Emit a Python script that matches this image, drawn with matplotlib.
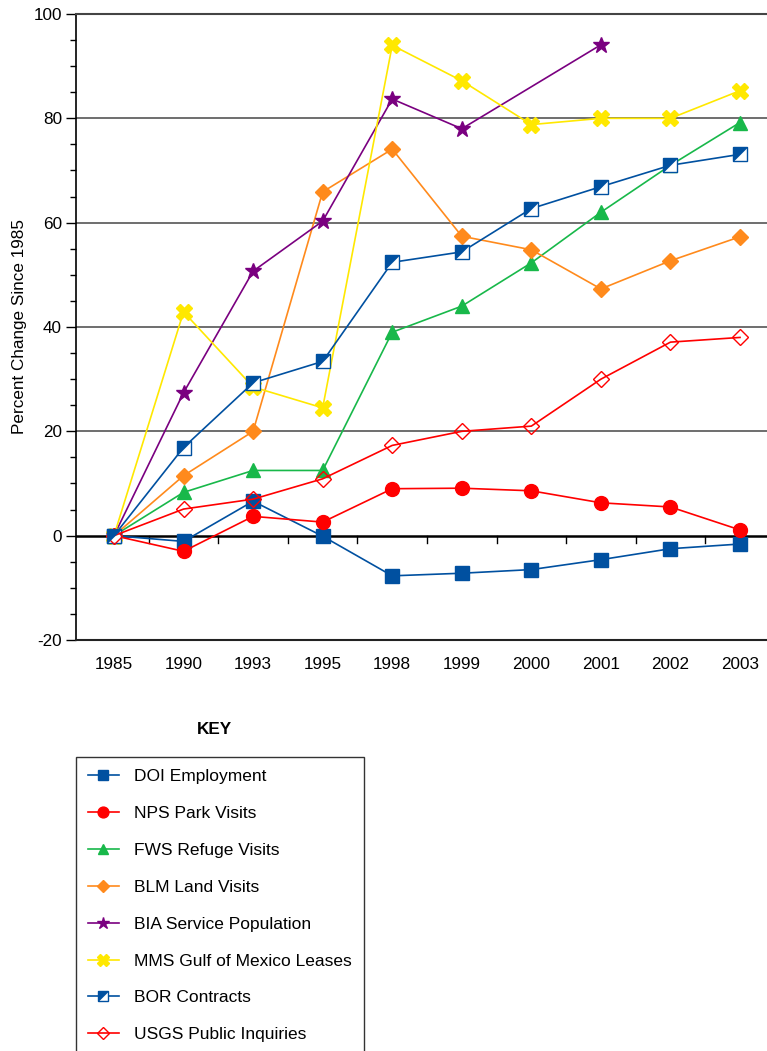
import numpy as np
import matplotlib
matplotlib.use('Agg')
import matplotlib.pyplot as plt
from matplotlib.path import Path
from matplotlib.legend_handler import HandlerTuple
from matplotlib.ticker import MultipleLocator

plt.rcParams['font.family'] = ['Liberation Sans', 'DejaVu Sans']
plt.rcParams['axes.unicode_minus'] = False

years = ['1985', '1990', '1993', '1995', '1998', '1999', '2000', '2001', '2002', '2003']

doi_employment = [0, -1.1, 6.6, -0.1, -7.7, -7.2, -6.5, -4.6, -2.5, -1.6]
nps_park_visits = [0, -3.0, 3.7, 2.6, 9.0, 9.1, 8.6, 6.3, 5.5, 1.1]
fws_refuge_visits = [0, 8.3, 12.5, 12.5, 39.0, 44.0, 52.3, 62.0, 71.0, 79.2]
blm_land_visits = [0, 11.5, 20.0, 65.9, 74.1, 57.4, 54.8, 47.3, 52.7, 57.3]
bia_service_pop = [0, 27.4, 50.7, 60.3, 83.7, 78.0, np.nan, 94.1, np.nan, np.nan]
mms_gulf_leases = [0, 42.9, 28.5, 24.5, 94.0, 87.2, 78.8, 80.0, 80.0, 85.3]
bor_contracts = [0, 16.9, 29.3, 33.4, 52.4, 54.4, 62.7, 66.9, 71.0, 73.1]
usgs_inquiries = [0, 5.1, 7.0, 10.9, 17.3, 20.0, 21.0, 30.0, 37.1, 38.0]

blue = '#0050A0'
red = '#FF0000'
green = '#18B84A'
orange = '#FF8A1C'
purple = '#7A0080'
yellow = '#FFE800'

fig = plt.figure(figsize=(7.67, 10.51), dpi=100)
W, H = 767, 1051
ax = fig.add_axes([76 / W, 1 - 640 / H, (778 - 76) / W, (640 - 14) / H])

x = np.arange(len(years))


def line(vals, color, marker, ms, mfc=None):
    v = np.array(vals, dtype=float)
    ok = ~np.isnan(v)
    h, = ax.plot(x[ok], v[ok], color=color, lw=1.2, marker=marker, ms=ms,
                 mfc=mfc if mfc else color, mec=color, mew=1.0,
                 clip_on=False, zorder=3)
    return h


handles = []
handles.append(line(doi_employment, blue, 's', 9.5))
handles.append(line(nps_park_visits, red, 'o', 10))
handles.append(line(fws_refuge_visits, green, '^', 9.5))
handles.append(line(blm_land_visits, orange, 'D', 8))
handles.append(line(bia_service_pop, purple, '*', 12))
handles.append(line(mms_gulf_leases, yellow, 'X', 11))

# BOR: open square with filled upper-left half
tri = Path([(-1, -1), (-1, 1), (1, 1), (-1, -1)],
           [Path.MOVETO, Path.LINETO, Path.LINETO, Path.CLOSEPOLY])
bor_a, = ax.plot(x, bor_contracts, color=blue, lw=1.2, marker='s', ms=9.5,
                 mfc='white', mec=blue, mew=1.0, zorder=3)
bor_b, = ax.plot(x, bor_contracts, ls='none', marker=tri, ms=9.5,
                 mfc=blue, mec=blue, mew=0.5, zorder=4)
handles.append((bor_a, bor_b))

handles.append(line(usgs_inquiries, red, 'D', 8, mfc='none'))

labels = ['DOI Employment', 'NPS Park Visits', 'FWS Refuge Visits',
          'BLM Land Visits', 'BIA Service Population',
          'MMS Gulf of Mexico Leases', 'BOR Contracts', 'USGS Public Inquiries']

ax.set_xlim(-0.546, 9.546)
ax.set_ylim(-20, 100)

for yv in [20, 40, 60, 80]:
    ax.axhline(yv, color='#555555', lw=1.2, zorder=1)
ax.axhline(0, color='black', lw=1.8, zorder=2)

# category boundary ticks hanging under the zero line
for b in np.arange(0.5, 9, 1.0):
    ax.plot([b, b], [0, -1.5], color='black', lw=1.0, zorder=2)

ax.yaxis.set_major_locator(MultipleLocator(20))
ax.yaxis.set_minor_locator(MultipleLocator(5))
ax.tick_params(axis='y', which='major', length=7, width=1.0, labelsize=12.3, pad=3)
ax.tick_params(axis='y', which='minor', length=4, width=1.0)
ax.set_xticks(x)
ax.set_xticklabels(years)
ax.tick_params(axis='x', length=0, labelsize=12.3, pad=12)

ax.spines['right'].set_visible(False)
ax.spines['top'].set_color('#444444')
ax.spines['top'].set_linewidth(1.5)
ax.spines['bottom'].set_color('#222222')
ax.spines['bottom'].set_linewidth(1.5)
ax.spines['left'].set_linewidth(1.2)

ax.set_ylabel('Percent Change Since 1985', fontsize=12.3, labelpad=5)

fig.text(214 / W, 1 - 729 / H, 'KEY', fontsize=12.3, fontweight='bold',
         ha='center', va='center')

leg = fig.legend(handles, labels, loc='upper left',
                 bbox_to_anchor=(76 / W, 1 - 757 / H), bbox_transform=fig.transFigure,
                 borderaxespad=0, fontsize=12.5, frameon=True, fancybox=False,
                 edgecolor='black', handlelength=1.75, handletextpad=0.9,
                 labelspacing=1.25, borderpad=0.7, markerscale=0.78,
                 handler_map={tuple: HandlerTuple(ndivide=1, pad=0)})
leg.get_frame().set_linewidth(1.0)

fig.savefig('out.png', dpi=100)
